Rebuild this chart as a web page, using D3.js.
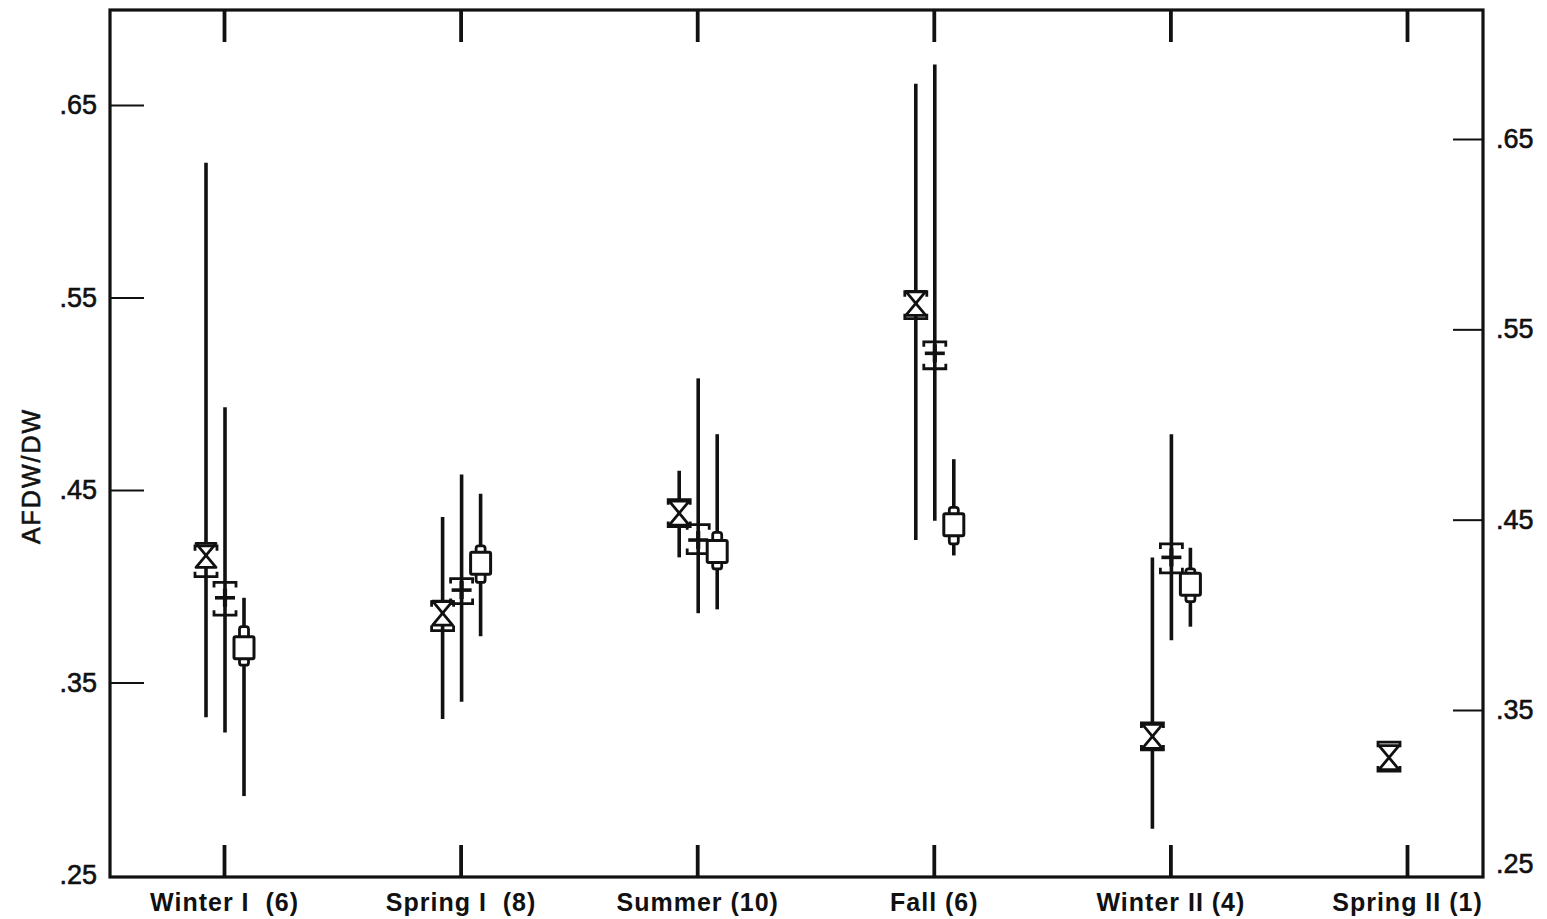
<!DOCTYPE html>
<html>
<head>
<meta charset="utf-8">
<script src="https://cdn.jsdelivr.net/npm/d3@7"></script>
<style>
  html, body { margin: 0; padding: 0; background: #fff; }
  svg { display: block; }
  text { font-family: "Liberation Sans", Arial, Helvetica, sans-serif; fill: #111; }
</style>
</head>
<body>
<svg id="chart" width="1547" height="919"></svg>
<script>
// Seasons sampled (number of samples in parentheses)
const seasons = ["Winter I  (6)", "Spring I  (8)", "Summer (10)", "Fall (6)", "Winter II (4)", "Spring II (1)"];

// Left and right axis tick values (AFDW/DW ratio)
const leftTicks = [0.25, 0.35, 0.45, 0.55, 0.65];
const rightTicks = [0.25, 0.35, 0.45, 0.55, 0.65];

// Hourglass series: mean, [min, max] range, [low, high] confidence limits
const hourglassMean  = [0.416, 0.386, 0.438, 0.547, 0.322, 0.311];
const hourglassRange = [[0.332, 0.620], [0.331, 0.436], [0.415, 0.460], [0.424, 0.661], [0.274, 0.415], null];
const hourglassCI    = [[0.405, 0.421], [0.377, 0.392], [0.431, 0.445], [0.539, 0.553], [0.315, 0.329], [0.304, 0.319]];

// Plus series
const plusMean  = [0.394, 0.398, 0.424, 0.521, 0.415, null];
const plusRange = [[0.324, 0.493], [0.340, 0.458], [0.386, 0.508], [0.434, 0.671], [0.372, 0.479], null];
const plusCI    = [[0.385, 0.402], [0.391, 0.404], [0.417, 0.432], [0.513, 0.527], [0.407, 0.422], null];

// Square series
const squareMean  = [0.368, 0.412, 0.418, 0.432, 0.401, null];
const squareRange = [[0.291, 0.394], [0.374, 0.448], [0.388, 0.479], [0.416, 0.466], [0.379, 0.420], null];
const squareCI    = [[0.359, 0.379], [0.402, 0.421], [0.409, 0.428], [0.422, 0.441], [0.392, 0.409], null];

const seriesKeys = ["hourglass", "plus", "square"];

const svg = d3.select("#chart");

const frame = { left: 110, right: 1483, top: 10, bottom: 877 };

// Scales
const x = d3.scalePoint().domain(seasons).range([224, 1407]);
const xOffset = d3.scalePoint().domain(seriesKeys).range([-18, 20]);
const yL = d3.scaleLinear().domain([0.25, 0.65]).range([875, 105]);
// right-hand scale printed on the sheet is offset from the left one
const yR = d3.scaleLinear().domain([0.25, 0.35, 0.65]).range([877, 710, 139]);

// Frame
svg.append("rect")
  .attr("x", frame.left).attr("y", frame.top)
  .attr("width", frame.right - frame.left).attr("height", frame.bottom - frame.top)
  .attr("fill", "none").attr("stroke", "#111").attr("stroke-width", 3.2);

function styleAxis(g, tickWidth, fontSize) {
  g.select(".domain").remove();
  g.selectAll(".tick line").attr("stroke", "#111").attr("stroke-width", tickWidth);
  g.selectAll(".tick text").attr("fill", "#111").style("font-size", fontSize + "px")
    .attr("font-family", "Liberation Sans, Arial, sans-serif");
}

const fmt = d => d3.format(".2f")(d).replace(/^0/, "");

// Left value axis, ticks pointing inward
svg.append("g")
  .attr("transform", `translate(${frame.left},0)`)
  .call(d3.axisLeft(yL).tickValues(leftTicks).tickSizeInner(-34).tickSizeOuter(0).tickPadding(13).tickFormat(fmt))
  .call(g => styleAxis(g, 2, 27))
  .call(g => g.selectAll(".tick text").attr("stroke", "#111").attr("stroke-width", 0.6))
  .call(g => g.selectAll(".tick").filter(d => d === 0.25).select("line").remove());

// Right value axis
svg.append("g")
  .attr("transform", `translate(${frame.right},0)`)
  .call(d3.axisRight(yR).tickValues(rightTicks).tickSizeInner(-30).tickSizeOuter(0).tickPadding(13).tickFormat(fmt))
  .call(g => styleAxis(g, 2, 27))
  .call(g => g.selectAll(".tick text").attr("stroke", "#111").attr("stroke-width", 0.6))
  .call(g => g.selectAll(".tick").filter(d => d === 0.25).select("line").remove())
  .call(g => g.selectAll(".tick").filter(d => d === 0.25).select("text").attr("dy", "-0.15em"));

// Top category ticks
svg.append("g")
  .attr("transform", `translate(0,${frame.top})`)
  .call(d3.axisTop(x).tickSizeInner(-32).tickSizeOuter(0).tickFormat(""))
  .call(g => styleAxis(g, 3.8, 10));

// Bottom category ticks and labels
svg.append("g")
  .attr("transform", `translate(0,${frame.bottom})`)
  .call(d3.axisBottom(x).tickSizeInner(-32).tickSizeOuter(0).tickPadding(16))
  .call(g => styleAxis(g, 3.8, 25))
  .call(g => g.selectAll(".tick text")
    .attr("font-weight", "bold")
    .style("white-space", "pre")
    .style("letter-spacing", "1px"));

// Y axis title
svg.append("text")
  .attr("transform", "translate(40,476) rotate(-90)")
  .attr("text-anchor", "middle")
  .attr("stroke", "#111").attr("stroke-width", 0.6)
  .style("font-size", "25px")
  .style("letter-spacing", "2px")
  .text("AFDW/DW");

// Build per-series rows from the arrays
function rows(key, means, ranges, cis) {
  return seasons.map((s, i) => ({
    season: s, key,
    mean: means[i], range: ranges[i], ci: cis[i]
  })).filter(d => d.mean != null);
}
const hourglassRows = rows("hourglass", hourglassMean, hourglassRange, hourglassCI);
const plusRows = rows("plus", plusMean, plusRange, plusCI);
const squareRows = rows("square", squareMean, squareRange, squareCI);

const cx = d => x(d.season) + xOffset(d.key);
const ink = "#111";

const marks = svg.append("g");

// Range lines (min to max)
marks.selectAll("line.range")
  .data([...hourglassRows, ...plusRows, ...squareRows].filter(d => d.range))
  .join("line")
  .attr("class", "range")
  .attr("x1", cx).attr("x2", cx)
  .attr("y1", d => yL(d.range[0])).attr("y2", d => yL(d.range[1]))
  .attr("stroke", ink).attr("stroke-width", 3.6);

// Confidence bracket: bar with serifs turned toward the mean
function bracketPath(d, v, half) {
  const y = yL(v);
  const dir = v > d.mean ? 1 : -1;
  const s = 5 * dir;
  return `M${-half},${y + s} L${-half},${y} L${half},${y} L${half},${y + s}`;
}

// Hourglass markers
const hg = marks.selectAll("g.hourglass").data(hourglassRows).join("g")
  .attr("class", "hourglass")
  .attr("transform", d => `translate(${cx(d)},0)`);
hg.append("path")
  .attr("d", d => {
    const y = yL(d.mean);
    return `M-10,${y - 12} L10,${y - 12} L-10,${y + 12} L10,${y + 12} Z`;
  })
  .attr("fill", "#fff").attr("stroke", ink).attr("stroke-width", 2.8).attr("stroke-linejoin", "round");
hg.selectAll("path.ci").data(d => d.ci.map(v => ({ d, v }))).join("path")
  .attr("class", "ci")
  .attr("d", o => bracketPath(o.d, o.v, 11))
  .attr("fill", "none").attr("stroke", ink).attr("stroke-width", 2.8);

// Plus markers
const pl = marks.selectAll("g.plus").data(plusRows).join("g")
  .attr("class", "plus")
  .attr("transform", d => `translate(${cx(d)},0)`);
pl.append("line")
  .attr("x1", -10).attr("x2", 10)
  .attr("y1", d => yL(d.mean)).attr("y2", d => yL(d.mean))
  .attr("stroke", ink).attr("stroke-width", 3.6);
pl.append("line")
  .attr("x1", 0).attr("x2", 0)
  .attr("y1", d => yL(d.mean) - 9).attr("y2", d => yL(d.mean) + 9)
  .attr("stroke", ink).attr("stroke-width", 4.2);
pl.selectAll("path.ci").data(d => d.ci.map(v => ({ d, v }))).join("path")
  .attr("class", "ci")
  .attr("d", o => bracketPath(o.d, o.v, 11))
  .attr("fill", "none").attr("stroke", ink).attr("stroke-width", 2.8);

// Square markers with confidence caps
const sq = marks.selectAll("g.square").data(squareRows).join("g")
  .attr("class", "square")
  .attr("transform", d => `translate(${cx(d)},0)`);
sq.append("rect")
  .attr("x", -4.5).attr("width", 9)
  .attr("y", d => yL(d.ci[1]))
  .attr("height", d => yL(d.ci[0]) - yL(d.ci[1]))
  .attr("rx", 2.5)
  .attr("fill", "#fff").attr("stroke", ink).attr("stroke-width", 2.8);
sq.append("rect")
  .attr("x", -10).attr("width", 20)
  .attr("y", d => yL(d.mean) - 11).attr("height", 22)
  .attr("rx", 1.5)
  .attr("fill", "#fff").attr("stroke", ink).attr("stroke-width", 3);
</script>
</body>
</html>
